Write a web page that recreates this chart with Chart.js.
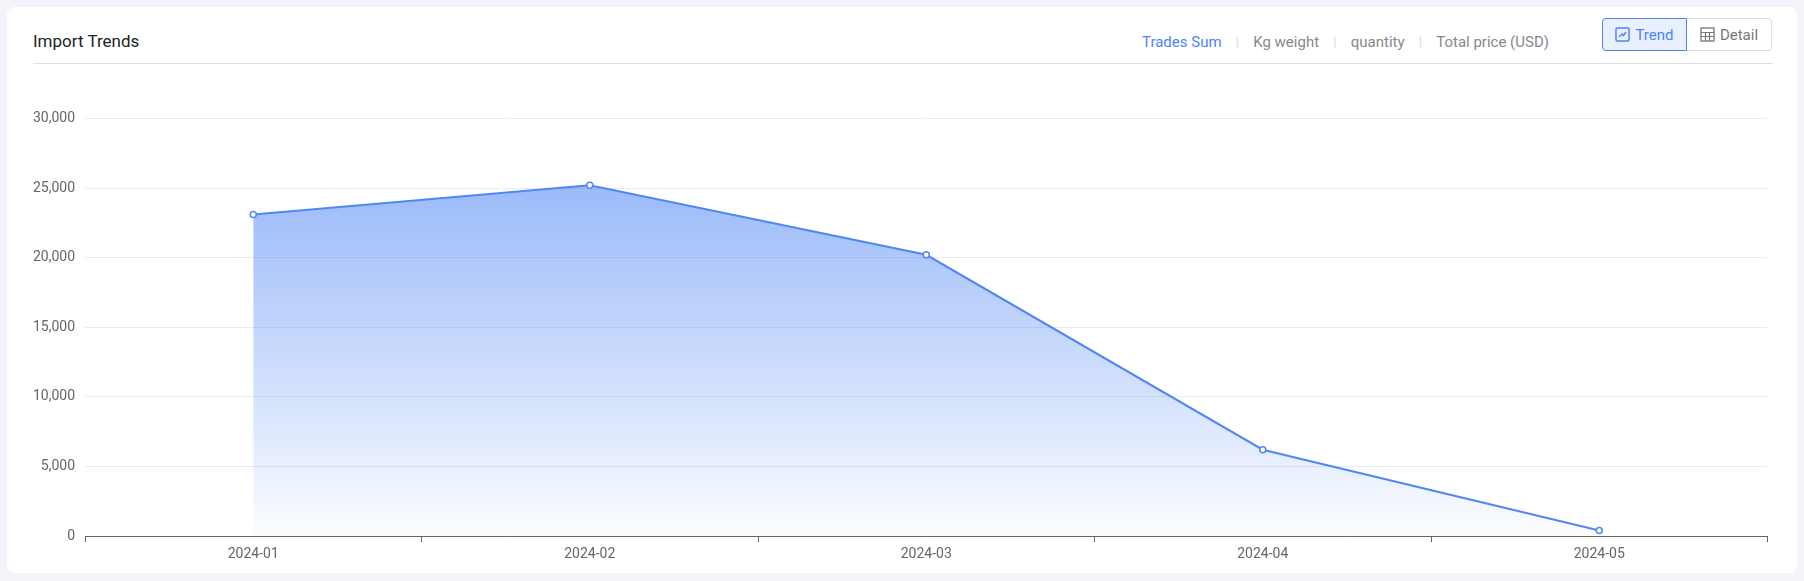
<!DOCTYPE html>
<html>
<head>
<meta charset="utf-8">
<script src="https://cdn.jsdelivr.net/npm/chart.js@4/dist/chart.umd.min.js"></script>
<style>
  body { margin: 0; background: #f2f4f9; font-family: Roboto, sans-serif; }
  .card { position: absolute; left: 7px; top: 7px; width: 1790px; height: 566px; background: #fff; border-radius: 8px; }
  .title { position: absolute; left: 26px; top: 24px; font-size: 17px; color: #222; }
  .rule { position: absolute; left: 26px; top: 56px; width: 1740px; height: 1px; background: #dcdfe6; }
  .tabs { position: absolute; left: 1135px; top: 26px; font-size: 15px; color: #888; }
  .tabs span { margin: 0 0; }
  .tabs .sep { color: #ddd; margin: 0 14px; }
  .tabs .on { color: #4f83f7; }
  .btns { position: absolute; left: 1595px; top: 11px; display: flex; font-size: 15px; }
  .btn { width: 85px; height: 33px; border: 1px solid #dcdfe6; box-sizing: border-box; display: flex; align-items: center; justify-content: center; color: #777; }
  .btn.on { background: #e8f0fe; border-color: #4f83f7; color: #4f83f7; border-radius: 4px 0 0 4px; }
  .btn.off { border-left: none; border-radius: 0 4px 4px 0; }
  .btn svg { margin-right: 5px; }
  .wrap { position: absolute; left: 26px; top: 93px; width: 1740px; height: 470px; }
</style>
</head>
<body>
<div class="card">
  <div class="title">Import Trends</div>
  <div class="tabs"><span class="on">Trades Sum</span><span class="sep">|</span><span>Kg weight</span><span class="sep">|</span><span>quantity</span><span class="sep">|</span><span>Total price (USD)</span></div>
  <div class="btns">
    <div class="btn on"><svg width="15" height="15" viewBox="0 0 15 15"><rect x="1" y="1" width="13" height="13" rx="1.5" fill="none" stroke="#4f83f7" stroke-width="1.5"/><path d="M4 10 L7 7 L8.5 8.5 L11 5" fill="none" stroke="#4f83f7" stroke-width="1.5"/></svg>Trend</div>
    <div class="btn off"><svg width="15" height="15" viewBox="0 0 15 15"><rect x="1" y="1" width="13" height="13" fill="none" stroke="#777" stroke-width="1.3"/><path d="M1 5.5H14M1 9.5H14M5.5 5.5V14M9.5 5.5V14" stroke="#777" stroke-width="1.2"/></svg>Detail</div>
  </div>
  <div class="rule"></div>
  <div class="wrap"><canvas id="line"></canvas></div>
</div>
<script>
const months = ['2024-01', '2024-02', '2024-03', '2024-04', '2024-05'];
const tradesSum = [23100, 25200, 20200, 6200, 400];
const yTicks = [0, 5000, 10000, 15000, 20000, 25000, 30000];

Chart.defaults.font.family = 'Roboto';
Chart.defaults.font.size = 14;
Chart.defaults.color = '#666';

let ctx = document.getElementById('line').getContext('2d');
let chart = new Chart(ctx, {
    type: 'line',
    data: {
        labels: months,
        datasets: [{
            label: 'Trades Sum',
            data: tradesSum,
            borderColor: '#5087f5',
            borderWidth: 2,
            pointRadius: 3,
            pointBorderWidth: 1.5,
            pointBackgroundColor: '#fff',
            pointBorderColor: '#5087f5',
            fill: 'origin',
            backgroundColor: (c) => {
                const area = c.chart.chartArea;
                if (!area) return 'rgba(80,135,245,0.4)';
                const g = c.chart.ctx.createLinearGradient(0, area.top, 0, area.bottom);
                g.addColorStop(0, 'rgba(80,135,245,0.68)');
                g.addColorStop(1, 'rgba(80,135,245,0.02)');
                return g;
            },
            tension: 0,
        }],
    },
    options: {
        responsive: true,
        maintainAspectRatio: false,
        animation: false,
        layout: { padding: { top: 13, right: 0, left: 0, bottom: 0 } },
        plugins: { legend: { display: false }, tooltip: { enabled: false } },
        scales: {
            x: {
                offset: true,
                grid: { display: true, drawOnChartArea: false, offset: true, tickLength: 6, color: '#666' },
                border: { color: '#666' },
                ticks: { color: '#666', padding: 4 },
                afterFit: (s) => { s.height = 34; },
            },
            y: {
                min: 0,
                max: 30000,
                afterBuildTicks: (s) => { s.ticks = yTicks.map(v => ({ value: v })); },
                grid: { color: '#e6ebf5', drawTicks: false },
                border: { display: false },
                ticks: { color: '#666', padding: 10, callback: (v) => v.toLocaleString('en-US') },
                afterFit: (s) => { s.width = 52; },
            },
        },
    }
});
</script>
</body>
</html>
